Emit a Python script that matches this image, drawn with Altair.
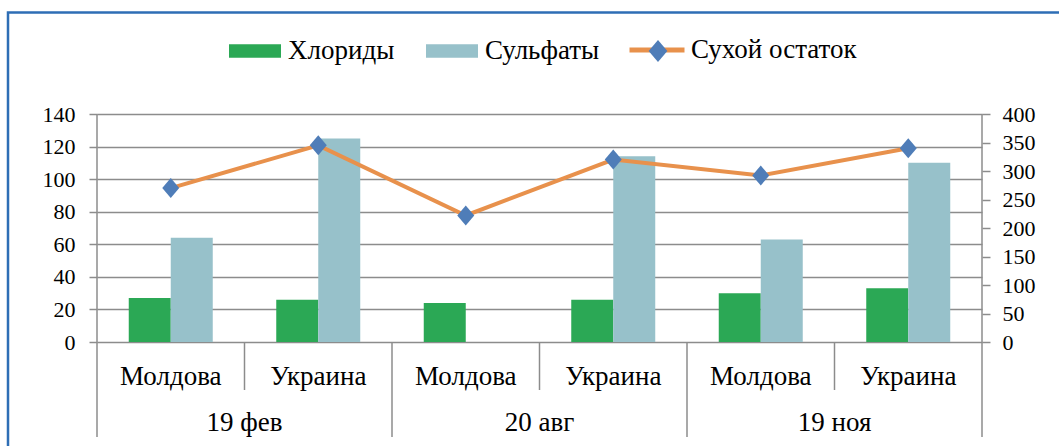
import altair as alt
import pandas as pd

# Sampling dates and sampling points (two-level category axis)
groups = ["19 фев", "20 авг", "19 ноя"]
countries = ["Молдова", "Украина"]

# Measured values, one entry per (date, country) in the order above
chlorides = [27, 26, 24, 26, 30, 33]
sulfates = [64, 125, None, 114, 63, 110]
dry_residue = [270, 345, 222, 320, 292, 340]

left_ticks = list(range(0, 141, 20))
right_ticks = list(range(0, 401, 50))

bar_series = ["Хлориды", "Сульфаты"]
bar_colors = ["#2BA855", "#97C1CA"]
line_series = "Сухой остаток"
marker_key = "Сухой остаток, маркер"
line_color = "#E8914C"
marker_color = "#4F7DB8"
grid_color = "#8C8C8C"
frame_color = "#2E6EB5"
FONT = "Liberation Serif"

RECT_PATH = "M-1,-0.26L1,-0.26L1,0.26L-1,0.26Z"
DIAMOND_PATH = "M-0.85,0L0,-1L0.85,0L0,1Z"

rows = []
for gi, g in enumerate(groups):
    for ci, c in enumerate(countries):
        rows.append({"key": f"{g} / {c}", "group": g, "country": c, "idx": gi * 2 + ci})
cats = pd.DataFrame(rows)
cats["chlorides"] = chlorides
cats["sulfates"] = sulfates
cats["dry"] = dry_residue
cats["series"] = line_series
cats["marker"] = marker_key
order = list(cats["key"])

bars_df = pd.concat([
    cats.assign(series=bar_series[0], value=cats["chlorides"]),
    cats.assign(series=bar_series[1], value=cats["sulfates"]),
]).dropna(subset=["value"])

xscale = alt.Scale(domain=order, paddingInner=0, paddingOuter=0)


def xenc(band=None):
    if band is None:
        return alt.X("key:N", scale=xscale, axis=None)
    return alt.X("key:N", scale=xscale, axis=None, bandPosition=band)


left_axis = alt.Axis(
    orient="left", values=left_ticks, grid=True, gridColor=grid_color, gridWidth=1.5,
    domain=False, ticks=True, tickSize=8, tickColor=grid_color, tickWidth=1.5,
    labelFont=FONT, labelFontSize=22, labelColor="black", labelPadding=14, title=None,
)
right_axis = alt.Axis(
    orient="right", values=right_ticks, grid=False,
    domain=False, ticks=True, tickSize=8, tickColor=grid_color, tickWidth=1.5,
    labelFont=FONT, labelFontSize=22, labelColor="black", labelPadding=12, title=None,
)

legend_text = dict(labelFont=FONT, labelFontSize=27, labelColor="black", padding=0,
                   labelLimit=400, title=None, symbolOpacity=1)

bars = alt.Chart(bars_df).mark_bar().encode(
    x=xenc(),
    xOffset=alt.XOffset("series:N", scale=alt.Scale(domain=bar_series, paddingInner=0, paddingOuter=0.756)),
    y=alt.Y("value:Q", scale=alt.Scale(domain=[0, 140], nice=False), axis=left_axis),
    color=alt.Color(
        "series:N", scale=alt.Scale(domain=bar_series, range=bar_colors),
        legend=alt.Legend(orient="none", legendX=132, legendY=-89, direction="horizontal",
                          symbolType=RECT_PATH, symbolSize=2704, symbolStrokeWidth=0,
                          labelOffset=7, columnPadding=31, **legend_text),
    ),
)

rule_style = dict(color=grid_color, strokeWidth=1.5)
outer_left = alt.Chart(cats[cats.idx == 0]).mark_rule(**rule_style).encode(
    x=xenc(0), y=alt.value(0), y2=alt.value(323))
outer_right = alt.Chart(cats[cats.idx == 5]).mark_rule(**rule_style).encode(
    x=xenc(1), y=alt.value(0), y2=alt.value(323))
group_lines = alt.Chart(cats[cats.idx.isin([2, 4])]).mark_rule(**rule_style).encode(
    x=xenc(0), y=alt.value(228), y2=alt.value(323))
sub_lines = alt.Chart(cats[cats.idx % 2 == 1]).mark_rule(**rule_style).encode(
    x=xenc(0), y=alt.value(228), y2=alt.value(276))

dry_scale = alt.Scale(domain=[0, 400], nice=False)
line = alt.Chart(cats).mark_line(strokeWidth=4).encode(
    x=xenc(),
    y=alt.Y("dry:Q", scale=dry_scale, axis=right_axis),
    stroke=alt.Stroke(
        "series:N", scale=alt.Scale(domain=[line_series], range=[line_color]),
        legend=alt.Legend(orient="none", legendX=530, legendY=-94, symbolType="stroke",
                          symbolSize=3025, symbolStrokeWidth=5, labelOffset=4, **legend_text),
    ),
)
points = alt.Chart(cats).mark_point(
    filled=True, color=marker_color, opacity=1, size=400, strokeWidth=0
).encode(
    x=xenc(),
    y=alt.Y("dry:Q", scale=dry_scale, axis=right_axis),
    shape=alt.Shape(
        "marker:N", scale=alt.Scale(domain=[marker_key], range=[DIAMOND_PATH]),
        legend=alt.Legend(orient="none", legendX=550, legendY=-74, title=None,
                          labelExpr="''", labelFontSize=1, labelOffset=0,
                          symbolSize=484, symbolFillColor=marker_color,
                          symbolStrokeWidth=0, symbolOpacity=1, padding=0),
    ),
)
dry_layer = alt.layer(line, points)

country_text = alt.Chart(cats).mark_text(font=FONT, fontSize=27, color="black", baseline="middle").encode(
    x=xenc(), y=alt.value(263), text="country:N")
group_text = alt.Chart(cats[cats.idx % 2 == 1]).mark_text(font=FONT, fontSize=27, color="black", baseline="middle").encode(
    x=xenc(0), y=alt.value(309), text="group:N")

frame = alt.Chart(pd.DataFrame({"f": [0]})).mark_rect(
    fill="transparent", stroke=frame_color, strokeWidth=2.5
).encode(x=alt.value(-89), x2=alt.value(1000), y=alt.value(-101.5), y2=alt.value(400))

chart = alt.layer(
    frame, bars, outer_left, outer_right, group_lines, sub_lines, dry_layer, country_text, group_text
).resolve_scale(y="independent").properties(
    width=885, height=228,
    autosize=alt.AutoSizeParams(type="none"),
    padding={"left": 97, "top": 114, "right": 77, "bottom": 104},
    background="white",
).configure_view(stroke=None)

chart.save("out.html", embed_options={"renderer": "svg", "actions": False})
